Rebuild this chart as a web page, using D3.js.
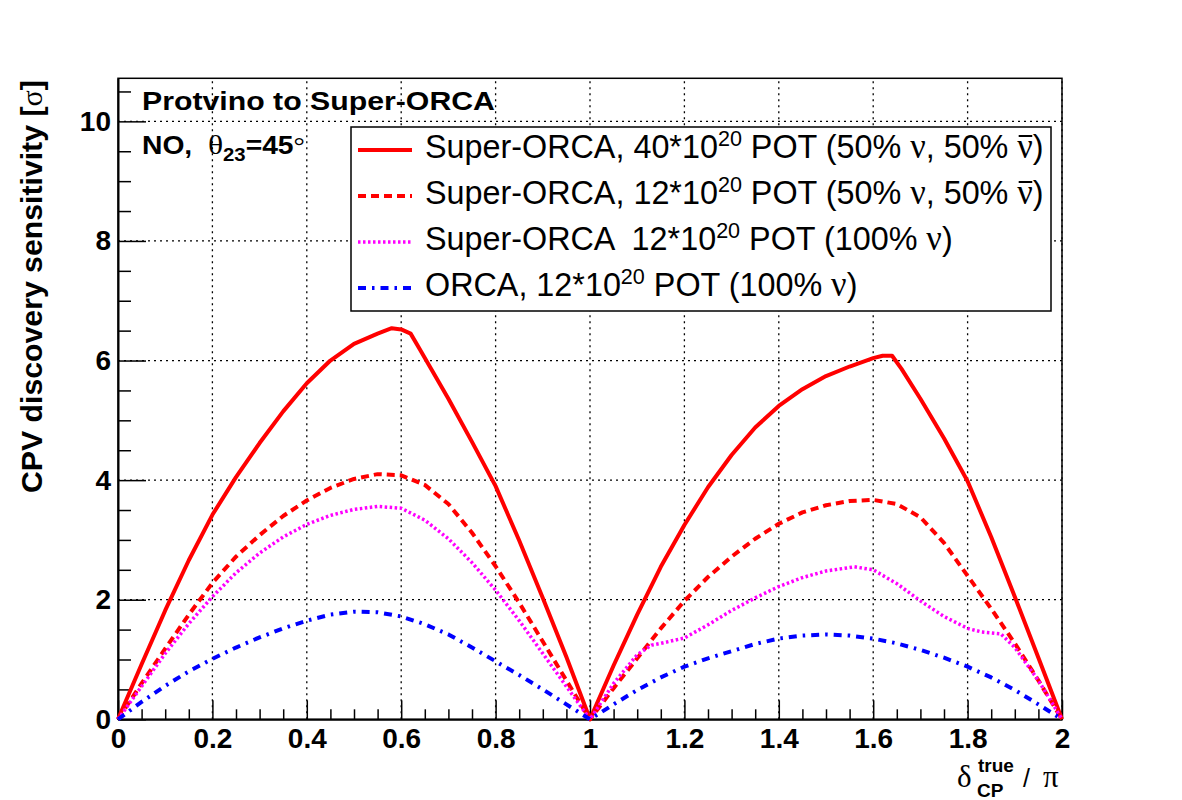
<!DOCTYPE html>
<html>
<head>
<meta charset="utf-8">
<script src="https://cdn.jsdelivr.net/npm/d3@7"></script>
<style>
  body { margin: 0; background: #fff; }
  text { font-family: "Liberation Sans", Arial, Helvetica, sans-serif; white-space: pre; }
  .serif { font-family: "Liberation Serif", "DejaVu Serif", serif; }
</style>
</head>
<body>
<svg id="chart" width="1182" height="800"></svg>
<script>
// x = delta_CP / pi, y = CPV discovery sensitivity in sigma
const xSO40 = [0, 0.05, 0.1, 0.15, 0.2, 0.25, 0.3, 0.35, 0.4, 0.45, 0.5, 0.55, 0.58, 0.6, 0.62, 0.64, 0.7, 0.75, 0.8, 0.85, 0.9, 0.95, 1.0,
  1.05, 1.1, 1.15, 1.2, 1.25, 1.3, 1.35, 1.4, 1.45, 1.5, 1.55, 1.6, 1.62, 1.64, 1.66, 1.7, 1.75, 1.8, 1.85, 1.9, 1.95, 2.0];
const ySO40 = [0, 0.92, 1.82, 2.66, 3.42, 4.05, 4.62, 5.15, 5.62, 6.0, 6.28, 6.45, 6.54, 6.52, 6.45, 6.18, 5.36, 4.64, 3.9, 2.99, 2.03, 1.04, 0,
  0.9, 1.75, 2.55, 3.25, 3.88, 4.42, 4.88, 5.24, 5.52, 5.74, 5.9, 6.04, 6.08, 6.08, 5.86, 5.36, 4.7, 3.98, 3.05, 2.05, 1.03, 0];

const xGrid = [0, 0.05, 0.1, 0.15, 0.2, 0.25, 0.3, 0.35, 0.4, 0.45, 0.5, 0.55, 0.6, 0.65, 0.7, 0.75, 0.8, 0.85, 0.9, 0.95, 1.0,
  1.05, 1.1, 1.15, 1.2, 1.25, 1.3, 1.35, 1.4, 1.45, 1.5, 1.55, 1.6, 1.65, 1.7, 1.75, 1.8, 1.85, 1.9, 1.95, 2.0];
const ySO12 = [0, 0.6, 1.18, 1.75, 2.28, 2.72, 3.08, 3.4, 3.66, 3.87, 4.02, 4.1, 4.08, 3.92, 3.6, 3.12, 2.56, 1.95, 1.3, 0.65, 0,
  0.52, 1.02, 1.52, 1.98, 2.38, 2.72, 3.02, 3.27, 3.46, 3.58, 3.65, 3.67, 3.6, 3.38, 2.95, 2.4, 1.85, 1.27, 0.65, 0];

const xSO12nu = [0, 0.05, 0.1, 0.15, 0.2, 0.25, 0.3, 0.35, 0.4, 0.45, 0.5, 0.55, 0.6, 0.65, 0.7, 0.75, 0.8, 0.85, 0.9, 0.95, 1.0,
  1.05, 1.1, 1.13, 1.15, 1.2, 1.25, 1.3, 1.35, 1.4, 1.45, 1.5, 1.56, 1.6, 1.65, 1.7, 1.75, 1.8, 1.83, 1.87, 1.9, 1.95, 2.0];
const ySO12nu = [0, 0.55, 1.1, 1.6, 2.05, 2.45, 2.78, 3.05, 3.26, 3.41, 3.51, 3.56, 3.53, 3.33, 3.02, 2.62, 2.16, 1.65, 1.1, 0.55, 0,
  0.6, 1.08, 1.24, 1.27, 1.36, 1.58, 1.82, 2.03, 2.22, 2.37, 2.48, 2.55, 2.5, 2.27, 1.98, 1.72, 1.52, 1.46, 1.43, 1.2, 0.65, 0];

const yORCA = [0, 0.29, 0.56, 0.8, 1.01, 1.2, 1.37, 1.52, 1.65, 1.75, 1.8, 1.79, 1.72, 1.59, 1.42, 1.2, 0.97, 0.74, 0.5, 0.25, 0,
  0.25, 0.49, 0.7, 0.88, 1.02, 1.14, 1.26, 1.35, 1.4, 1.42, 1.4, 1.35, 1.27, 1.16, 1.03, 0.88, 0.7, 0.49, 0.25, 0];

const xMajorTicks = [0, 0.2, 0.4, 0.6, 0.8, 1, 1.2, 1.4, 1.6, 1.8, 2];
const yMajorTicks = [0, 2, 4, 6, 8, 10];

const series = [
  { name: "SO40", xs: xSO40, ys: ySO40, color: "#ff0000", width: 4, dash: null },
  { name: "SO12", xs: xGrid, ys: ySO12, color: "#ff0000", width: 4, dash: "8 5" },
  { name: "SO12nu", xs: xSO12nu, ys: ySO12nu, color: "#ff00ff", width: 3.5, dash: "2.5 2.5" },
  { name: "ORCA", xs: xGrid, ys: yORCA, color: "#0000ff", width: 4, dash: "8 6 2.5 6" }
];

const svg = d3.select("#chart");
const margin = { top: 78.3, right: 120, bottom: 80.7, left: 118 };
const W = 1182, H = 800;

const x = d3.scaleLinear().domain([0, 2]).range([margin.left, W - margin.right]);
const y = d3.scaleLinear().domain([0, 10.72]).range([H - margin.bottom, margin.top]);

// grid
const grid = svg.append("g").attr("stroke", "#000").attr("stroke-width", 1.3).attr("stroke-dasharray", "2 4");
grid.selectAll(".gx").data(xMajorTicks.slice(1)).join("line")
  .attr("x1", d => x(d)).attr("x2", d => x(d))
  .attr("y1", y.range()[0]).attr("y2", y.range()[1]);
grid.selectAll(".gy").data(yMajorTicks.slice(1)).join("line")
  .attr("x1", x.range()[0]).attr("x2", x.range()[1])
  .attr("y1", d => y(d)).attr("y2", d => y(d));

// frame
svg.append("rect")
  .attr("x", x.range()[0]).attr("y", y.range()[1])
  .attr("width", x.range()[1] - x.range()[0])
  .attr("height", y.range()[0] - y.range()[1])
  .attr("fill", "none").attr("stroke", "#000").attr("stroke-width", 1.5);

// x axis
const xMinor = d3.range(0, 2.0001, 0.05).filter(v => Math.abs(v * 5 - Math.round(v * 5)) > 1e-6);
svg.append("g")
  .attr("transform", `translate(0,${y(0)})`)
  .call(d3.axisBottom(x).tickValues(xMinor).tickSize(-10).tickFormat(""))
  .call(g => g.select(".domain").remove())
  .selectAll("line").attr("stroke-width", 1.5);
const xAxisG = svg.append("g")
  .attr("transform", `translate(0,${y(0)})`)
  .call(d3.axisBottom(x).tickValues(xMajorTicks).tickSize(-19).tickSizeOuter(0).tickPadding(9)
    .tickFormat(d => d3.format("")(+d.toFixed(1))));
xAxisG.select(".domain").attr("stroke-width", 2);
xAxisG.selectAll("line").attr("stroke-width", 1.5);
xAxisG.selectAll("text")
  .attr("font-size", 28).attr("font-weight", "bold")
  .attr("font-family", "Liberation Sans, Arial, sans-serif").attr("fill", "#000");

// y axis
const yMinor = d3.range(0.5, 10.6, 0.5).filter(v => v % 2 !== 0);
svg.append("g")
  .attr("transform", `translate(${x(0)},0)`)
  .call(d3.axisLeft(y).tickValues(yMinor).tickSize(-13).tickFormat(""))
  .call(g => g.select(".domain").remove())
  .selectAll("line").attr("stroke-width", 1.5);
const yAxisG = svg.append("g")
  .attr("transform", `translate(${x(0)},0)`)
  .call(d3.axisLeft(y).tickValues(yMajorTicks).tickSize(-28).tickSizeOuter(0).tickPadding(7));
yAxisG.select(".domain").attr("stroke-width", 2);
yAxisG.selectAll("line").attr("stroke-width", 1.5);
yAxisG.selectAll("text")
  .attr("font-size", 28).attr("font-weight", "bold")
  .attr("font-family", "Liberation Sans, Arial, sans-serif").attr("fill", "#000");

// curves
const line = d3.line().x(d => x(d[0])).y(d => y(d[1]));
svg.append("g").selectAll("path").data(series).join("path")
  .attr("d", s => line(s.xs.map((v, i) => [v, s.ys[i]])))
  .attr("fill", "none")
  .attr("stroke", s => s.color)
  .attr("stroke-width", s => s.width)
  .attr("stroke-dasharray", s => s.dash)
  .attr("stroke-linejoin", "round");

// squeeze/stretch a text group so it spans the width seen in the plot
function fitText(g, x0, y0, width) {
  const bb = g.node().getBBox();
  const sx = width / bb.width;
  g.attr("transform", `translate(${x0 - bb.x * sx},${y0}) scale(${sx},1)`);
}

// labels in the corner
const t1 = svg.append("g");
t1.append("text").attr("font-size", 25).attr("font-weight", "bold").text("Protvino to Super-ORCA");
fitText(t1, 142, 110, 353);

const t2 = svg.append("g");
const t2t = t2.append("text").attr("font-size", 25).attr("font-weight", "bold");
t2t.append("tspan").text("NO,  ");
t2t.append("tspan").attr("class", "serif").attr("font-weight", "normal").attr("font-size", 28).text("θ");
t2t.append("tspan").attr("font-size", 18).attr("dy", 7).text("23");
t2t.append("tspan").attr("dy", -7).text("=45");
t2t.append("tspan").attr("class", "serif").attr("font-weight", "normal").text("°");
fitText(t2, 142, 154, 163);

// legend
const legendRows = [
  { s: series[0], pre: "Super-ORCA, 40*10", post: " POT (50% ", bar: true },
  { s: series[1], pre: "Super-ORCA, 12*10", post: " POT (50% ", bar: true },
  { s: series[2], pre: "Super-ORCA  12*10", post: " POT (100% ", bar: false },
  { s: series[3], pre: "ORCA, 12*10", post: " POT (100% ", bar: false }
];
const legend = svg.append("g");
legend.append("rect")
  .attr("x", 351).attr("y", 127).attr("width", 700).attr("height", 184)
  .attr("fill", "#fff").attr("stroke", "#000").attr("stroke-width", 1.5);

const rowH = 46;
legend.selectAll(".sample").data(legendRows).join("line")
  .attr("x1", 358).attr("x2", 412)
  .attr("y1", (d, i) => 150 + i * rowH).attr("y2", (d, i) => 150 + i * rowH)
  .attr("stroke", d => d.s.color).attr("stroke-width", d => d.s.width)
  .attr("stroke-dasharray", d => d.s.dash);

const rowGroups = [];
legendRows.forEach((r, i) => {
  const g = legend.append("g");
  const t = g.append("text").attr("font-size", 33);
  t.append("tspan").text(r.pre);
  t.append("tspan").attr("font-size", 22).attr("dy", -12).text("20");
  t.append("tspan").attr("dy", 12).text(r.post);
  t.append("tspan").attr("class", "serif").attr("font-size", 35).text("ν");
  if (r.bar) {
    t.append("tspan").text(", 50% ");
    t.append("tspan").attr("class", "serif").attr("font-size", 35).text("ν");
  }
  t.append("tspan").text(")");
  // anti-neutrino bar over the last nu
  if (r.bar) {
    const txt = t.node();
    const idx = txt.textContent.lastIndexOf("ν");
    const ext = txt.getExtentOfChar(idx);
    g.append("line")
      .attr("x1", ext.x + 1).attr("x2", ext.x + ext.width - 1)
      .attr("y1", -22).attr("y2", -22)
      .attr("stroke", "#000").attr("stroke-width", 2);
  }
  rowGroups.push(g);
});
// all rows share the horizontal squeeze of the first row
const bb0 = rowGroups[0].node().getBBox();
const sxLeg = 619 / bb0.width;
rowGroups.forEach((g, i) => {
  const bb = g.node().getBBox();
  g.attr("transform", `translate(${425 - bb.x * sxLeg},${158 + i * rowH}) scale(${sxLeg},1)`);
});

// axis titles
const yt = svg.append("g");
const ytt = yt.append("text").attr("font-size", 30).attr("font-weight", "bold");
ytt.append("tspan").text("CPV discovery sensitivity [");
ytt.append("tspan").attr("class", "serif").attr("font-weight", "normal").text("σ");
ytt.append("tspan").text("]");
{
  const bb = yt.node().getBBox();
  const s = 413 / bb.width;
  yt.attr("transform", `translate(42,${493}) rotate(-90) scale(${s},1) translate(${-bb.x},0)`);
}

const xt = svg.append("g");
xt.append("text").attr("class", "serif").attr("x", 957).attr("y", 787).attr("font-size", 31).text("δ");
xt.append("text").attr("x", 978).attr("y", 772).attr("font-size", 19).attr("font-weight", "bold").text("true");
xt.append("text").attr("x", 977).attr("y", 797).attr("font-size", 19).attr("font-weight", "bold").text("CP");
xt.append("text").attr("x", 1023).attr("y", 787).attr("font-size", 25).text("/");
xt.append("text").attr("class", "serif").attr("x", 1043).attr("y", 787).attr("font-size", 31).text("π");
</script>
</body>
</html>
